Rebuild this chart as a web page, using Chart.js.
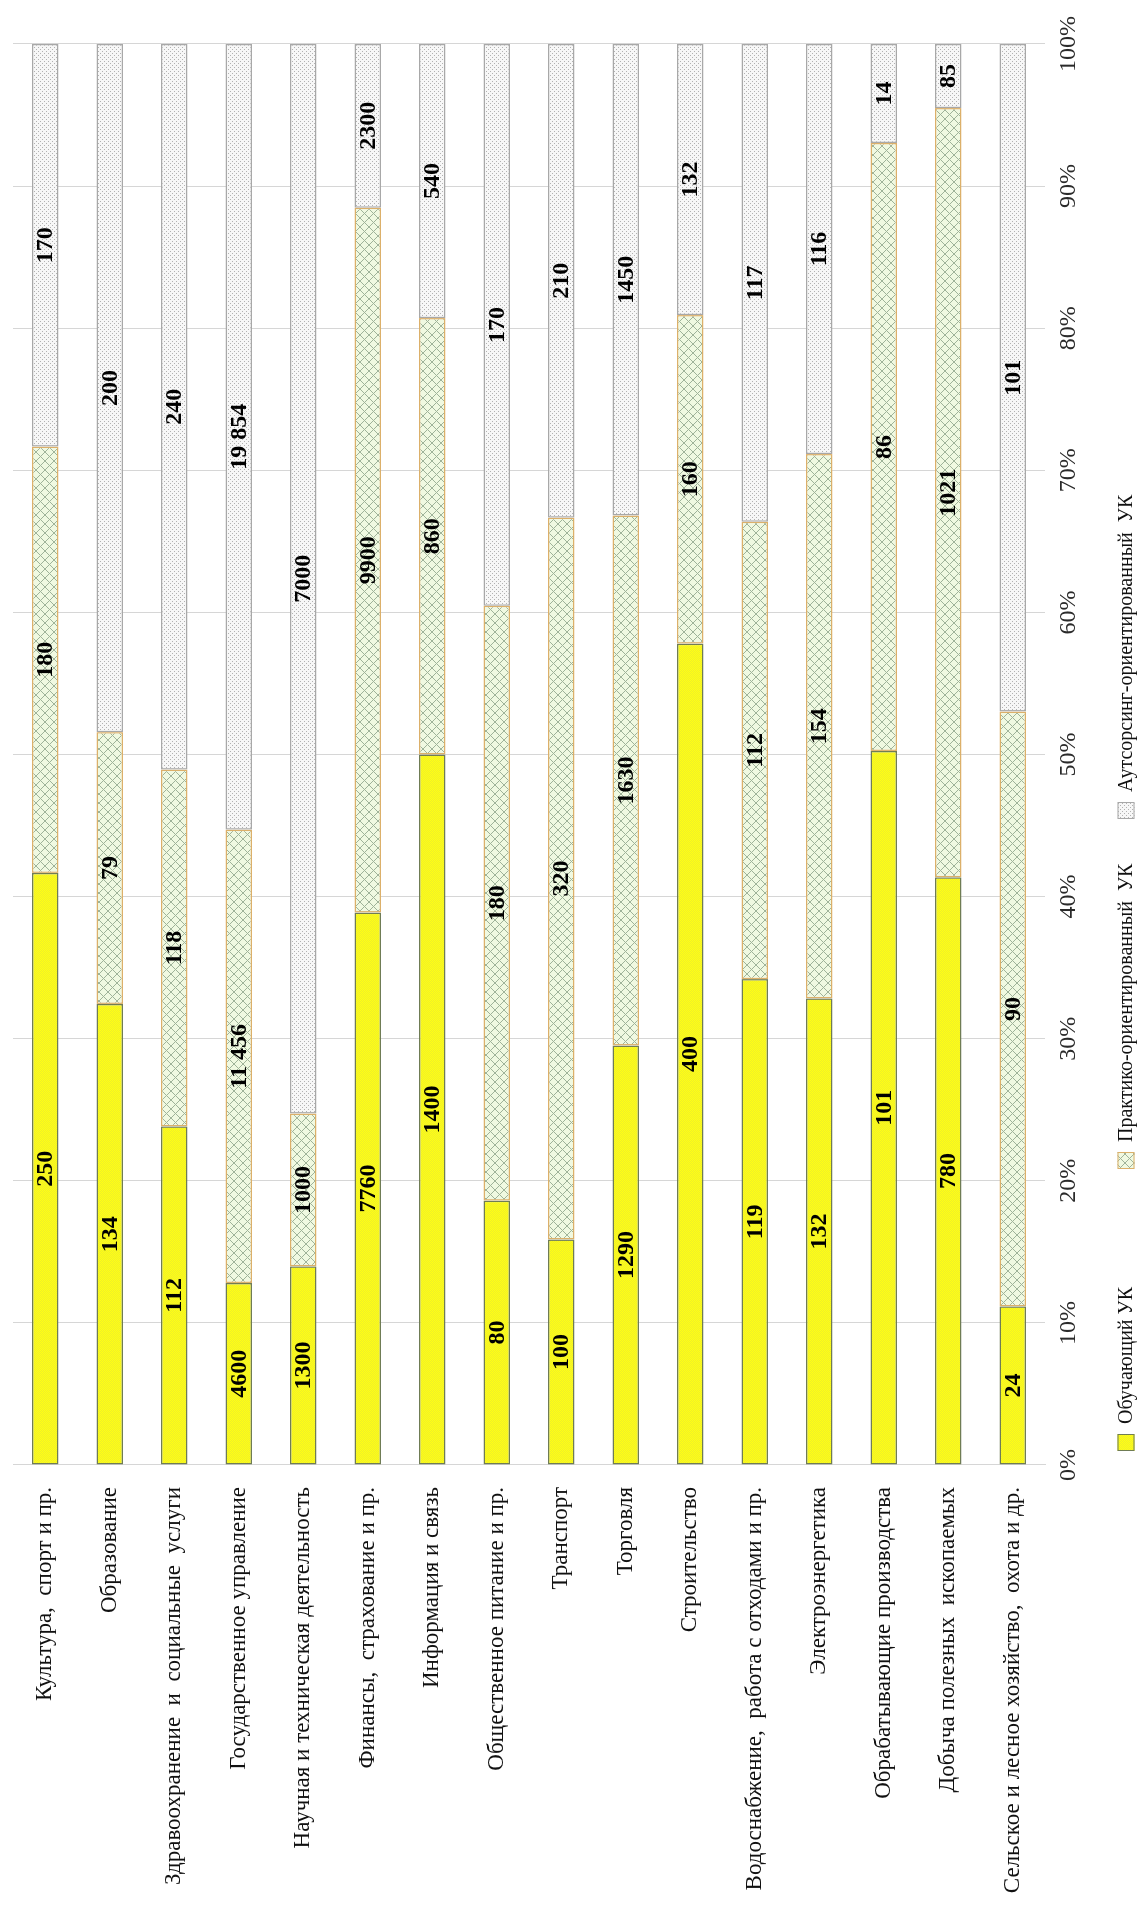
<!DOCTYPE html>
<html lang="ru">
<head>
<meta charset="utf-8">
<title>Структура УК по отраслям</title>
<script src="https://cdn.jsdelivr.net/npm/chart.js@4/dist/chart.umd.min.js"></script>
<style>
  html, body { margin: 0; padding: 0; background: #ffffff; overflow: hidden; }
  /* the chart is laid out landscape and turned a quarter-turn to stand upright on the page */
  #frame {
    position: absolute; left: 0; top: 0;
    width: 1910px; height: 1139px;
    transform-origin: 0 0;
    transform: translateY(1910px) rotate(-90deg);
  }
  canvas { display: block; }
</style>
</head>
<body>
<div id="frame"><canvas id="chart" width="1910" height="1139"></canvas></div>
<script>
// Отрасли (сверху вниз)
const categories = [
  'Культура,  спорт и пр.',
  'Образование',
  'Здравоохранение  и  социальные  услуги',
  'Государственное управление',
  'Научная и техническая деятельность',
  'Финансы,  страхование и пр.',
  'Информация и связь',
  'Общественное питание и пр.',
  'Транспорт',
  'Торговля',
  'Строительство',
  'Водоснабжение,  работа с отходами и пр.',
  'Электроэнергетика',
  'Обрабатывающие производства',
  'Добыча полезных  ископаемых',
  'Сельское и лесное хозяйство,  охота и др.'
];

// Количество по типам УК
const trainingUK    = [250, 134, 112, 4600, 1300, 7760, 1400,  80, 100, 1290, 400, 119, 132, 101,  780,  24];
const practiceUK    = [180,  79, 118, 11456, 1000, 9900, 860, 180, 320, 1630, 160, 112, 154,  86, 1021,  90];
const outsourcingUK = [170, 200, 240, 19854, 7000, 2300, 540, 170, 210, 1450, 132, 117, 116,  14,   85, 101];

const seriesNames = [
  'Обучающий УК',
  'Практико-ориентированный  УК',
  'Аутсорсинг-ориентированный  УК'
];

// Шкала долей
const percentMin = 0;
const percentMax = 100;
const percentStep = 10;

const FONT = '"Liberation Serif", "Times New Roman", serif';
Chart.defaults.font.family = FONT;

const totals = categories.map((_, i) => trainingUK[i] + practiceUK[i] + outsourcingUK[i]);
const share = arr => arr.map((v, i) => v / totals[i] * 100);

function formatCount(v) {
  return v >= 10000 ? String(v).replace(/\B(?=(\d{3})+(?!\d))/g, ' ') : String(v);
}

function makePattern(w, h, paint) {
  const c = document.createElement('canvas');
  c.width = w; c.height = h;
  const g = c.getContext('2d');
  paint(g, w, h);
  return g.createPattern(c, 'repeat');
}

// сплошная жёлтая заливка с мелкой сеткой
const yellowFill = makePattern(2, 2, g => {
  g.fillStyle = '#ffff14'; g.fillRect(0, 0, 2, 2);
  g.fillStyle = '#eeee2a'; g.fillRect(0, 0, 1, 1); g.fillRect(1, 1, 1, 1);
});
// светлая косая сетка
const meshFill = makePattern(9, 9, (g, w, h) => {
  g.fillStyle = '#f0f9e1'; g.fillRect(0, 0, w, h);
  g.strokeStyle = '#9fb399'; g.lineWidth = 1;
  g.beginPath();
  g.moveTo(0, 0); g.lineTo(w, h);
  g.moveTo(w, 0); g.lineTo(0, h);
  g.stroke();
});
// мелкие серые точки
const dotFill = makePattern(4, 4, g => {
  g.fillStyle = '#f7f7f7'; g.fillRect(0, 0, 4, 4);
  g.fillStyle = '#b2b2b2'; g.fillRect(0, 0, 1, 1); g.fillRect(2, 2, 1, 1);
});

const datasets = [
  { label: seriesNames[0], counts: trainingUK,    data: share(trainingUK),
    backgroundColor: yellowFill, borderColor: '#6f7c55' },
  { label: seriesNames[1], counts: practiceUK,    data: share(practiceUK),
    backgroundColor: meshFill,   borderColor: '#dcb06a' },
  { label: seriesNames[2], counts: outsourcingUK, data: share(outsourcingUK),
    backgroundColor: dotFill,    borderColor: '#a8a8a8' }
].map(d => Object.assign(d, {
  borderWidth: 1.5,
  borderSkipped: false,
  categoryPercentage: 1,
  barPercentage: 0.41
}));

// подписи значений в центре каждого сегмента
const valueLabels = {
  id: 'valueLabels',
  afterDatasetsDraw(chart) {
    const ctx = chart.ctx;
    ctx.save();
    ctx.font = 'bold 24px ' + FONT;
    ctx.fillStyle = '#000000';
    ctx.textAlign = 'center';
    ctx.textBaseline = 'middle';
    chart.data.datasets.forEach((ds, di) => {
      chart.getDatasetMeta(di).data.forEach((bar, i) => {
        ctx.fillText(formatCount(ds.counts[i]), (bar.x + bar.base) / 2, bar.y + 1);
      });
    });
    ctx.restore();
  }
};

// легенда в одну строку под шкалой
const keyLegend = {
  id: 'keyLegend',
  afterDraw(chart, args, opts) {
    const ctx = chart.ctx;
    ctx.save();
    ctx.font = opts.size + 'px ' + FONT;
    ctx.textAlign = 'left';
    ctx.textBaseline = 'middle';
    chart.data.datasets.forEach((ds, i) => {
      const x = opts.starts[i];
      const y = opts.y;
      const b = opts.box;
      ctx.fillStyle = ds.backgroundColor;
      ctx.fillRect(x, y - b / 2, b, b);
      ctx.strokeStyle = ds.borderColor;
      ctx.lineWidth = 1;
      ctx.strokeRect(x + 0.5, y - b / 2 + 0.5, b - 1, b - 1);
      ctx.fillStyle = opts.color;
      ctx.fillText(ds.label, x + b + opts.gap, y + 1);
    });
    ctx.restore();
  }
};

new Chart(document.getElementById('chart'), {
  type: 'bar',
  data: { labels: categories, datasets },
  plugins: [valueLabels, keyLegend],
  options: {
    indexAxis: 'y',
    responsive: false,
    animation: false,
    devicePixelRatio: 1,
    layout: { padding: { top: 13, right: 44, bottom: 0, left: 0 } },
    scales: {
      x: {
        stacked: true,
        min: percentMin, max: percentMax,
        ticks: {
          stepSize: percentStep,
          callback: v => v + '%',
          font: { size: 24 },
          color: '#2a2a2a',
          padding: 9
        },
        grid: { color: '#d6d6d6', lineWidth: 1, drawTicks: false },
        border: { display: false },
        afterFit(scale) { scale.height = 94; }
      },
      y: {
        stacked: true,
        ticks: { font: { size: 23 }, color: '#111111', padding: 22, autoSkip: false },
        grid: { display: false, drawTicks: false },
        border: { display: true, color: '#d6d6d6', width: 1 },
        afterFit(scale) {
          scale.width = 445;
          // полосы заполняют всю высоту области построения
          scale.paddingTop = 0;
          scale.paddingBottom = 0;
        }
      }
    },
    plugins: {
      legend: { display: false },
      tooltip: { enabled: false },
      keyLegend: {
        starts: [459, 741, 1091],
        y: 1126,
        box: 17,
        gap: 10,
        size: 20,
        color: '#111111'
      }
    }
  }
});
</script>
</body>
</html>
